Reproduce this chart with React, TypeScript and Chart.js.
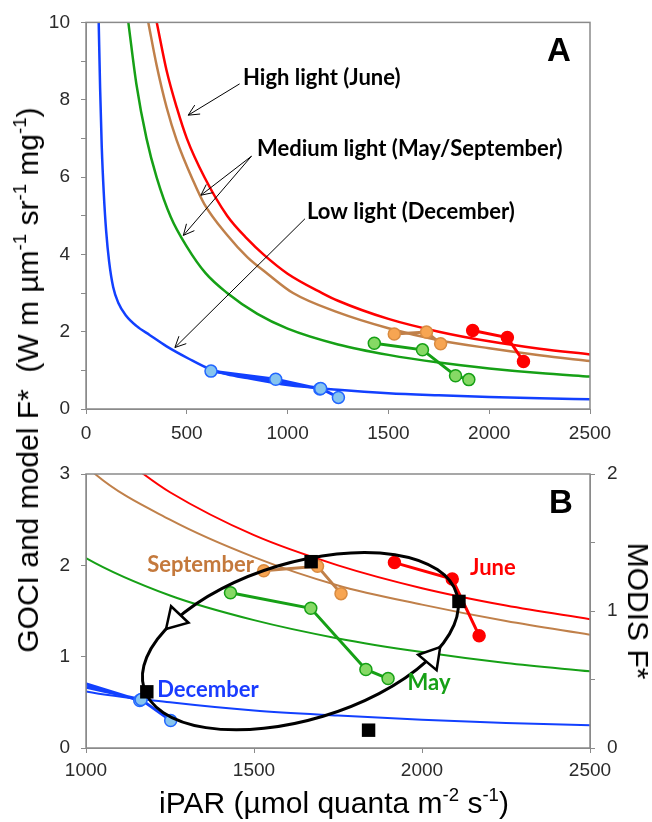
import React, { useEffect, useRef } from "react";
import { Chart, registerables } from "chart.js";
Chart.register(...registerables);

// ---------- model curves (iPAR, F*) ----------
const highX = [351, 400, 450, 500, 587, 700, 800, 880, 1000, 1171, 1250, 1500, 1750, 2000, 2250, 2500];
const highY = [10, 8.75, 7.8, 7.0, 6.0, 5.0, 4.4, 4.0, 3.5, 3.0, 2.8, 2.33, 2.0, 1.75, 1.56, 1.41];
const medSepX = [309, 350, 400, 450, 532, 587, 700, 800, 900, 1027, 1250, 1500, 1750, 2000, 2250, 2500];
const medSepY = [10, 8.9, 7.8, 6.95, 5.9, 5.3, 4.5, 3.93, 3.5, 3.0, 2.5, 2.09, 1.78, 1.57, 1.39, 1.24];
const medMayX = [210, 250, 300, 350, 421, 500, 592, 700, 850, 1000, 1250, 1500, 1750, 2000, 2250, 2500];
const medMayY = [10, 8.4, 7.0, 6.0, 4.96, 4.2, 3.52, 3.0, 2.46, 2.08, 1.67, 1.4, 1.2, 1.05, 0.93, 0.84];
const lowX = [63, 70, 78, 88, 100, 115, 135, 160, 198, 250, 317, 400, 510, 615, 700, 800, 1000, 1250, 1500, 1750, 2000, 2250, 2500];
const lowY = [10, 8.3, 6.8, 5.6, 4.6, 3.8, 3.15, 2.75, 2.42, 2.15, 1.91, 1.62, 1.3, 1.03, 0.9, 0.8, 0.62, 0.5, 0.41, 0.355, 0.31, 0.275, 0.25];

// ---------- GOCI F* observations ----------
const juneX = [1918, 2090, 2170];
const juneY = [2.03, 1.85, 1.23];
const septX = [1529, 1689, 1759];
const septY = [1.94, 1.99, 1.69];
const mayX = [1430, 1669, 1833, 1899];
const mayY = [1.7, 1.53, 0.86, 0.76];
const decX = [1160, 941, 620, 1164, 1252];
const decY = [0.52, 0.77, 0.98, 0.53, 0.3];

// ---------- MODIS F* (right axis of panel B) ----------
const modisX = [1181, 1670, 2110, 1841];
const modisY = [0.41, 1.36, 1.07, 0.13];

// ---------- axis ranges / ticks ----------
const xRangeA = [0, 2500];
const yRangeA = [0, 10];
const xRangeB = [1000, 2500];
const yRangeB = [0, 3];
const y2RangeB = [0, 2];
const xStep = 500;

// ---------- styles ----------
const GREY = "#8a8a8a";
const TICK_COLOR = "#2b2b2b";
const SANS = '"Liberation Sans", Arial, sans-serif';
const ANNO = 'bold 22px Lato, "Open Sans", sans-serif';
const RED = "#ff0000";
const BROWN = "#c0804a";
const GREEN = "#16a016";
const BLUE = "#1240ff";

const pts = (xs: number[], ys: number[]) => xs.map((x, i) => ({ x, y: ys[i] }));

const curve = (xs: number[], ys: number[], color: string, w: number) => ({
  data: pts(xs, ys),
  showLine: true,
  borderColor: color,
  backgroundColor: color,
  borderWidth: w,
  pointRadius: 0,
  pointHoverRadius: 0,
  cubicInterpolationMode: "monotone",
  clip: 0,
  order: 5,
});

const series = (xs: number[], ys: number[], line: string, fill: string, edge: string) => ({
  data: pts(xs, ys),
  showLine: true,
  borderColor: line,
  backgroundColor: fill,
  borderWidth: 3,
  pointRadius: 6,
  pointHoverRadius: 6,
  pointBackgroundColor: fill,
  pointBorderColor: edge,
  pointBorderWidth: 1.5,
  tension: 0,
  order: 2,
});

const tickFont = { family: SANS, size: 19 };

const axis = (range: number[], step: number, pad: number, cb: (v: number) => string, extra: any = {}) => ({
  type: "linear",
  min: range[0],
  max: range[1],
  grid: { drawOnChartArea: false, drawTicks: true, tickLength: 5, tickColor: GREY, tickWidth: 1 },
  border: { display: true, color: GREY, width: 1 },
  ticks: {
    stepSize: step,
    autoSkip: false,
    maxRotation: 0,
    padding: pad,
    color: TICK_COLOR,
    font: tickFont,
    callback: cb,
  },
  ...extra,
});

const frame = {
  id: "frame",
  afterDatasetsDraw(chart: any) {
    const { ctx, chartArea } = chart;
    ctx.save();
    ctx.strokeStyle = GREY;
    ctx.lineWidth = 1.5;
    ctx.strokeRect(chartArea.left, chartArea.top, chartArea.right - chartArea.left, chartArea.bottom - chartArea.top);
    ctx.restore();
  },
};

function openArrow(ctx: CanvasRenderingContext2D, x0: number, y0: number, x1: number, y1: number) {
  const ang = Math.atan2(y1 - y0, x1 - x0);
  const L = 12;
  const spread = 0.45;
  ctx.beginPath();
  ctx.moveTo(x0, y0);
  ctx.lineTo(x1, y1);
  ctx.moveTo(x1 - L * Math.cos(ang - spread), y1 - L * Math.sin(ang - spread));
  ctx.lineTo(x1, y1);
  ctx.lineTo(x1 - L * Math.cos(ang + spread), y1 - L * Math.sin(ang + spread));
  ctx.stroke();
}

// annotation placement (in data units of panel A)
const notesA = [
  { text: "High light (June)", x: 779, y: 8.39 },
  { text: "Medium light (May/September)", x: 848, y: 6.55 },
  { text: "Low light (December)", x: 1096, y: 4.91 },
];
const arrowsA = [
  { x0: 762, y0: 8.41, x1: 507, y1: 7.6 },
  { x0: 821, y0: 6.54, x1: 570, y1: 5.53 },
  { x0: 821, y0: 6.54, x1: 483, y1: 4.49 },
  { x0: 1086, y0: 4.92, x1: 441, y1: 1.59 },
];

const annoA = {
  id: "annoA",
  afterDraw(chart: any) {
    const { ctx } = chart;
    const xs = chart.scales.x;
    const ys = chart.scales.y;
    ctx.save();
    ctx.fillStyle = "#000";
    ctx.strokeStyle = "#000";
    ctx.lineWidth = 1;
    for (const a of arrowsA)
      openArrow(ctx, xs.getPixelForValue(a.x0), ys.getPixelForValue(a.y0), xs.getPixelForValue(a.x1), ys.getPixelForValue(a.y1));
    ctx.font = ANNO;
    ctx.textBaseline = "alphabetic";
    ctx.textAlign = "left";
    for (const n of notesA) ctx.fillText(n.text, xs.getPixelForValue(n.x), ys.getPixelForValue(n.y));
    ctx.font = `bold 33px ${SANS}`;
    ctx.fillText("A", chart.chartArea.right - 43, chart.chartArea.top + 39);
    ctx.restore();
  },
};

// panel B labels & loop
const notesB = [
  { text: "September", x: 1182, y: 1.93, color: "#c4793c" },
  { text: "June", x: 2143, y: 1.895, color: RED },
  { text: "December", x: 1212, y: 0.56, color: "#1a3cff" },
  { text: "May", x: 1957, y: 0.64, color: GREEN },
];
const loop = { x: 1638, y: 1.17, rx: 486, ry: 0.859, rotDeg: -16.8, arrowsAt: [220, 36] };

const annoB = {
  id: "annoB",
  afterDatasetsDraw(chart: any) {
    const { ctx } = chart;
    const xs = chart.scales.x;
    const ys = chart.scales.y;
    const cx = xs.getPixelForValue(loop.x);
    const cy = ys.getPixelForValue(loop.y);
    const rx = xs.getPixelForValue(loop.x + loop.rx) - cx;
    const ry = ys.getPixelForValue(loop.y - loop.ry) - cy;
    const rot = (loop.rotDeg * Math.PI) / 180;
    const c = Math.cos(rot);
    const s = Math.sin(rot);
    ctx.save();
    ctx.beginPath();
    ctx.rect(chart.chartArea.left, chart.chartArea.top, chart.chartArea.right - chart.chartArea.left, chart.chartArea.bottom - chart.chartArea.top);
    ctx.clip();
    ctx.strokeStyle = "#000";
    ctx.lineWidth = 3;
    ctx.beginPath();
    ctx.ellipse(cx, cy, rx, ry, rot, 0, Math.PI * 2);
    ctx.stroke();
    for (const deg of loop.arrowsAt) {
      const t = (deg * Math.PI) / 180;
      const lx = rx * Math.cos(t);
      const ly = ry * Math.sin(t);
      const px = cx + lx * c - ly * s;
      const py = cy + lx * s + ly * c;
      const tx = rx * Math.sin(t);
      const ty = -ry * Math.cos(t);
      let dx = tx * c - ty * s;
      let dy = tx * s + ty * c;
      const d = Math.hypot(dx, dy);
      dx /= d;
      dy /= d;
      const bx = px - 20 * dx;
      const by = py - 20 * dy;
      ctx.beginPath();
      ctx.moveTo(px, py);
      ctx.lineTo(bx - 12 * dy, by + 12 * dx);
      ctx.lineTo(bx + 12 * dy, by - 12 * dx);
      ctx.closePath();
      ctx.fillStyle = "#fff";
      ctx.fill();
      ctx.lineWidth = 2.5;
      ctx.stroke();
    }
    ctx.restore();
  },
  afterDraw(chart: any) {
    const { ctx } = chart;
    const xs = chart.scales.x;
    const ys = chart.scales.y;
    ctx.save();
    ctx.font = ANNO;
    ctx.textBaseline = "alphabetic";
    ctx.textAlign = "left";
    for (const n of notesB) {
      ctx.fillStyle = n.color;
      ctx.fillText(n.text, xs.getPixelForValue(n.x), ys.getPixelForValue(n.y));
    }
    ctx.fillStyle = "#000";
    ctx.font = `bold 33px ${SANS}`;
    ctx.fillText("B", chart.chartArea.right - 41, chart.chartArea.top + 39);
    ctx.restore();
  },
};

const baseOptions = {
  animation: false,
  responsive: false,
  devicePixelRatio: 1,
  events: [],
  plugins: { legend: { display: false }, tooltip: { enabled: false } },
};

const str = (v: number) => String(v);

function configA(): any {
  return {
    type: "scatter",
    data: {
      datasets: [
        curve(highX, highY, RED, 2.5),
        curve(medSepX, medSepY, BROWN, 2.5),
        curve(medMayX, medMayY, GREEN, 2.5),
        curve(lowX, lowY, BLUE, 2.5),
        series(juneX, juneY, RED, RED, RED),
        series(septX, septY, BROWN, "#f7a552", "#d98b40"),
        series(mayX, mayY, GREEN, "#86d965", GREEN),
        series(decX, decY, BLUE, "#86c4ef", "#2266ff"),
      ],
    },
    options: {
      ...baseOptions,
      layout: { padding: { left: 0, right: 62, top: 18, bottom: 0 } },
      scales: {
        x: axis(xRangeA, xStep, 8, str, { afterFit: (s: any) => { s.height = 36; } }),
        y: axis(yRangeA, 1, 11, (v: number) => (v % 2 === 0 ? String(v) : ""), { afterFit: (s: any) => { s.width = 86; } }),
      },
    },
    plugins: [frame, annoA],
  };
}

function configB(): any {
  return {
    type: "scatter",
    data: {
      datasets: [
        curve(highX, highY, RED, 2),
        curve(medSepX, medSepY, BROWN, 2),
        curve(medMayX, medMayY, GREEN, 2),
        curve(lowX, lowY, BLUE, 2),
        { ...series(juneX, juneY, RED, RED, RED), clip: 0 },
        { ...series(septX, septY, BROWN, "#f7a552", "#d98b40"), clip: 0 },
        { ...series(mayX, mayY, GREEN, "#86d965", GREEN), clip: 0 },
        { ...series(decX, decY, BLUE, "#86c4ef", "#2266ff"), clip: 0 },
        {
          data: pts(modisX, modisY),
          yAxisID: "y2",
          showLine: false,
          pointStyle: "rect",
          pointRadius: 9.5,
          pointHoverRadius: 9.5,
          pointBackgroundColor: "#000",
          pointBorderColor: "#000",
          pointBorderWidth: 0,
          order: 0,
        },
      ],
    },
    options: {
      ...baseOptions,
      layout: { padding: { left: 0, right: 0, top: 29, bottom: 0 } },
      scales: {
        x: axis(xRangeB, xStep, 6, str, { afterFit: (s: any) => { s.height = 74; } }),
        y: axis(yRangeB, 1, 11, str, { afterFit: (s: any) => { s.width = 86; } }),
        y2: axis(y2RangeB, 0.5, 12, (v: number) => (Number.isInteger(v) ? String(v) : ""), {
          position: "right",
          afterFit: (s: any) => { s.width = 62; },
        }),
      },
    },
    plugins: [frame, annoB],
  };
}

const supStyle: React.CSSProperties = { fontSize: "0.62em", position: "relative", top: "-0.62em", lineHeight: 0 };
const Sup = ({ children }: { children: React.ReactNode }) => <span style={supStyle}>{children}</span>;

const titleBase: React.CSSProperties = {
  position: "absolute",
  fontFamily: SANS,
  fontSize: 30,
  lineHeight: 1,
  whiteSpace: "nowrap",
  color: "#000",
};

export default function App() {
  const refA = useRef<HTMLCanvasElement>(null);
  const refB = useRef<HTMLCanvasElement>(null);

  useEffect(() => {
    document.body.style.margin = "0";
    const a = new Chart(refA.current as HTMLCanvasElement, configA());
    const b = new Chart(refB.current as HTMLCanvasElement, configB());
    let alive = true;
    const fonts: any = (document as any).fonts;
    if (fonts && fonts.load) {
      Promise.all([fonts.load(ANNO), fonts.load(`19px ${SANS}`), fonts.load(`bold 33px ${SANS}`)])
        .then(() => {
          if (alive) {
            a.update();
            b.update();
          }
        })
        .catch(() => {});
    }
    return () => {
      alive = false;
      a.destroy();
      b.destroy();
    };
  }, []);

  return (
    <div style={{ position: "relative", width: 652, height: 822, background: "#fff", overflow: "hidden" }}>
      <canvas ref={refA} width={652} height={445} style={{ position: "absolute", left: 0, top: 0, width: 652, height: 445 }} />
      <canvas ref={refB} width={652} height={377} style={{ position: "absolute", left: 0, top: 445, width: 652, height: 377 }} />
      <div style={{ ...titleBase, left: 28, top: 380, transform: "translate(-50%, -50%) rotate(-90deg)" }}>
        GOCI and model F*{"\u00a0 "}(W m µm<Sup>-1</Sup> sr<Sup>-1</Sup> mg<Sup>-1</Sup>)
      </div>
      <div style={{ ...titleBase, left: 334, top: 803, transform: "translate(-50%, -50%)" }}>
        iPAR (µmol quanta m<Sup>-2</Sup> s<Sup>-1</Sup>)
      </div>
      <div style={{ ...titleBase, left: 638, top: 611, transform: "translate(-50%, -50%) rotate(90deg)" }}>MODIS F*</div>
    </div>
  );
}
